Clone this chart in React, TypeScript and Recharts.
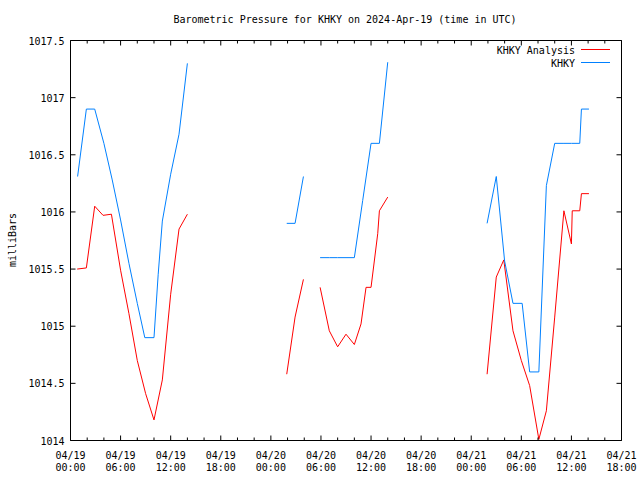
import { Line, LineChart, XAxis, YAxis } from 'recharts'

// hours since 04/19 00:00 UTC; null = no data (breaks the line)
const analysisHours = [
  0.8, 1.9, 2.9, 3.9, 4.9, 6, 7, 8, 9, 10, 11, 12, 13, 14,
  20,
  25.9, 26.9, 27.9,
  28.9,
  29.9, 31, 32, 33, 34, 34.8, 35.4, 36, 36.8, 37, 38,
  44,
  49.9, 51, 51.9, 53, 54, 55, 56.1, 57, 58, 59.1, 60, 60.1, 61, 61.2, 62.1,
]
const analysisValues = [
  1015.5, 1015.51, 1016.05, 1015.97, 1015.98, 1015.49, 1015.11, 1014.7, 1014.41, 1014.18, 1014.53, 1015.28, 1015.85, 1015.98,
  null,
  1014.58, 1015.08, 1015.41,
  null,
  1015.34, 1014.96, 1014.82, 1014.93, 1014.84, 1015.02, 1015.34, 1015.34, 1015.81, 1016.01, 1016.13,
  null,
  1014.58, 1015.43, 1015.58, 1014.96, 1014.7, 1014.48, 1014.01, 1014.26, 1015.08, 1016.01, 1015.72, 1016.01, 1016.01, 1016.16, 1016.16,
]

const khkyHours = [
  0.85, 1.9, 2.9, 4, 5, 6, 7, 8, 8.9, 10, 10.5, 11, 12, 13, 14,
  20,
  25.9, 26.9, 27.9,
  28.9,
  29.9, 31, 32, 33, 34, 35, 36, 37, 38,
  44,
  49.9, 51, 52, 53, 54.1, 55, 56.1, 57, 58, 59, 60, 61, 61.2, 62.1,
]
const khkyValues = [
  1016.31, 1016.9, 1016.9, 1016.6, 1016.28, 1015.93, 1015.55, 1015.2, 1014.9, 1014.9, 1015.45, 1015.92, 1016.33, 1016.68, 1017.3,
  null,
  1015.9, 1015.9, 1016.31,
  null,
  1015.6, 1015.6, 1015.6, 1015.6, 1015.6, 1016.1, 1016.6, 1016.6, 1017.31,
  null,
  1015.9, 1016.31, 1015.57, 1015.2, 1015.2, 1014.6, 1014.6, 1016.23, 1016.6, 1016.6, 1016.6, 1016.6, 1016.9, 1016.9,
]

const hourTicks = [0, 2, 4, 6, 8, 10, 12, 14, 16, 18, 20, 22, 24, 26, 28, 30, 32, 34, 36, 38, 40, 42, 44, 46, 48, 50, 52, 54, 56, 58, 60, 62, 64, 66]
const majorHours = [0, 6, 12, 18, 24, 30, 36, 42, 48, 54, 60, 66]
const dayLabels = ['04/19', '04/19', '04/19', '04/19', '04/20', '04/20', '04/20', '04/20', '04/21', '04/21', '04/21', '04/21']
const timeLabels = ['00:00', '06:00', '12:00', '18:00', '00:00', '06:00', '12:00', '18:00', '00:00', '06:00', '12:00', '18:00']
const pressureTicks = [1014, 1014.5, 1015, 1015.5, 1016, 1016.5, 1017, 1017.5]

const font = '"DejaVu Sans Mono", monospace'

const toPoints = (hours: number[], values: (number | null)[]) =>
  hours.map((h, i) => ({ h, v: values[i] }))

const analysisData = toPoints(analysisHours, analysisValues)
const khkyData = toPoints(khkyHours, khkyValues)

function BottomTick(props: any) {
  const { x, y, payload } = props
  const i = majorHours.indexOf(payload.value)
  return (
    <g>
      <line x1={x} x2={x} y1={y} y2={y - (i >= 0 ? 5 : 3)} stroke="#000" />
      {i >= 0 && (
        <text x={x} y={y + 18} textAnchor="middle" fontFamily={font} fontSize={10} fill="#000">
          <tspan x={x}>{dayLabels[i]}</tspan>
          <tspan x={x} dy={12.5}>{timeLabels[i]}</tspan>
        </text>
      )}
    </g>
  )
}

function TopTick(props: any) {
  const { x, y, payload } = props
  const major = majorHours.includes(payload.value)
  return <line x1={x} x2={x} y1={y} y2={y + (major ? 5 : 3)} stroke="#000" />
}

function LeftTick(props: any) {
  const { x, y, payload } = props
  return (
    <g>
      <line x1={x} x2={x + 5} y1={y} y2={y} stroke="#000" />
      <text x={x - 6} y={y + 4} textAnchor="end" fontFamily={font} fontSize={10} fill="#000">
        {payload.value}
      </text>
    </g>
  )
}

function RightTick(props: any) {
  const { x, y } = props
  return <line x1={x} x2={x - 5} y1={y} y2={y} stroke="#000" />
}

export default function App() {
  const axisLine = { stroke: '#000', strokeWidth: 1 }
  return (
    <div style={{ position: 'absolute', left: 0, top: 0, width: 640, height: 480, background: '#fff' }}>
      <LineChart width={640} height={480} margin={{ top: 39.5, right: 17.5, bottom: 0, left: 0 }}>
        <XAxis
          xAxisId="bottom"
          dataKey="h"
          type="number"
          domain={[0, 66]}
          allowDataOverflow
          ticks={hourTicks}
          interval={0}
          height={39.5}
          tickSize={0}
          tickMargin={0}
          tickLine={false}
          axisLine={axisLine}
          tick={(p: any) => <BottomTick {...p} />}
        />
        <XAxis
          xAxisId="top"
          orientation="top"
          dataKey="h"
          type="number"
          domain={[0, 66]}
          allowDataOverflow
          ticks={hourTicks}
          interval={0}
          height={1}
          tickSize={0}
          tickMargin={0}
          tickLine={false}
          axisLine={axisLine}
          tick={(p: any) => <TopTick {...p} />}
        />
        <YAxis
          yAxisId="left"
          type="number"
          domain={[1014, 1017.5]}
          allowDataOverflow
          ticks={pressureTicks}
          interval={0}
          width={70.5}
          tickSize={0}
          tickMargin={0}
          tickLine={false}
          axisLine={axisLine}
          tick={(p: any) => <LeftTick {...p} />}
        />
        <YAxis
          yAxisId="right"
          orientation="right"
          type="number"
          domain={[1014, 1017.5]}
          allowDataOverflow
          ticks={pressureTicks}
          interval={0}
          width={1}
          tickSize={0}
          tickMargin={0}
          tickLine={false}
          axisLine={axisLine}
          tick={(p: any) => <RightTick {...p} />}
        />
        <Line
          data={analysisData}
          dataKey="v"
          xAxisId="bottom"
          yAxisId="left"
          stroke="#ff0000"
          strokeWidth={1}
          dot={false}
          activeDot={false}
          connectNulls={false}
          isAnimationActive={false}
        />
        <Line
          data={khkyData}
          dataKey="v"
          xAxisId="bottom"
          yAxisId="left"
          stroke="#0080ff"
          strokeWidth={1}
          dot={false}
          activeDot={false}
          connectNulls={false}
          isAnimationActive={false}
        />
      </LineChart>
      <svg
        width={640}
        height={480}
        style={{ position: 'absolute', left: 0, top: 0, pointerEvents: 'none' }}
      >
        <text x={345} y={23} textAnchor="middle" fontFamily={font} fontSize={10} fill="#000">
          Barometric Pressure for KHKY on 2024-Apr-19 (time in UTC)
        </text>
        <text
          x={16}
          y={240}
          textAnchor="middle"
          fontFamily={font}
          fontSize={10}
          fill="#000"
          transform="rotate(-90 16 240)"
        >
          milliBars
        </text>
        <text x={575} y={54} textAnchor="end" fontFamily={font} fontSize={10} fill="#000">
          KHKY Analysis
        </text>
        <line x1={581} x2={610} y1={49.5} y2={49.5} stroke="#ff0000" />
        <text x={575} y={67} textAnchor="end" fontFamily={font} fontSize={10} fill="#000">
          KHKY
        </text>
        <line x1={581} x2={610} y1={62.5} y2={62.5} stroke="#0080ff" />
      </svg>
    </div>
  )
}
